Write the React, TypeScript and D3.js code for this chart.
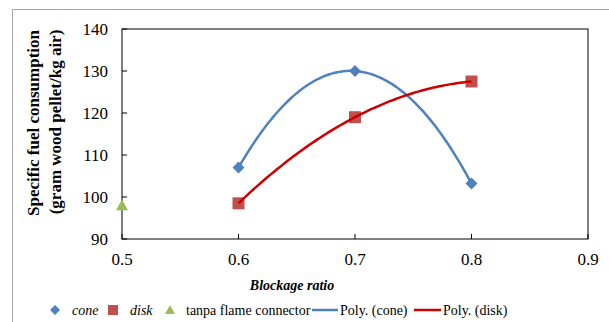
import * as React from 'react';
import * as d3 from 'd3';

const ratios = [0.6, 0.7, 0.8];
const coneValues = [107, 130, 103.2];
const diskValues = [98.5, 119, 127.5];
const tanpaRatio = [0.5];
const tanpaValues = [98];
const xTicks = [0.5, 0.6, 0.7, 0.8, 0.9];
const yTicks = [90, 100, 110, 120, 130, 140];

const width = 609;
const height = 322;
const left = 122;
const right = 588;
const top = 29;
const bottom = 239;

const font = '"Liberation Serif", "Times New Roman", serif';

// quadratic trendline through the three points (Lagrange form)
const poly = (xs: number[], ys: number[]) => (x: number) =>
  ys.reduce((s, yi, i) => {
    let t = yi;
    xs.forEach((xj, j) => {
      if (j !== i) t *= (x - xj) / (xs[i] - xj);
    });
    return s + t;
  }, 0);

const App: React.FC = () => {
  const x = d3.scaleLinear().domain([0.5, 0.9]).range([left, right]);
  const y = d3.scaleLinear().domain([90, 140]).range([bottom, top]);
  const line = d3.line<number[]>().x((d) => x(d[0])).y((d) => y(d[1]));

  const samples = d3.range(0.6, 0.8001, 0.0025);
  const coneFit = poly(ratios, coneValues);
  const diskFit = poly(ratios, diskValues);
  const conePath = line(samples.map((r) => [r, coneFit(r)])) || '';
  const diskPath = line(samples.map((r) => [r, diskFit(r)])) || '';

  const diamond = (cx: number, cy: number, r: number) =>
    `M${cx},${cy - r}L${cx + r},${cy}L${cx},${cy + r}L${cx - r},${cy}Z`;
  const triangle = (cx: number, cy: number, r: number) =>
    `M${cx},${cy - r}L${cx + r},${cy + r * 0.8}L${cx - r},${cy + r * 0.8}Z`;

  return (
    <svg width={width} height={height} style={{ position: 'absolute', left: 0, top: 0, fontFamily: font }}>
      <rect width={width} height={height} fill="white" />
      <path d={`M12.5,${height}V9.5H${width}`} fill="none" stroke="#a6a6a6" />

      {/* plot frame */}
      <rect x={left} y={top} width={right - left} height={bottom - top} fill="none" stroke="#000" strokeWidth={1} />
      {yTicks.map((t) => (
        <g key={t}>
          <line x1={left} x2={left + 5} y1={y(t)} y2={y(t)} stroke="#000" />
          <text x={left - 14} y={y(t)} dy="0.35em" textAnchor="end" fontSize={17}>
            {t}
          </text>
        </g>
      ))}
      {xTicks.map((t) => (
        <g key={t}>
          <line x1={x(t)} x2={x(t)} y1={bottom} y2={bottom - 5} stroke="#000" />
          <text x={x(t)} y={bottom + 26} textAnchor="middle" fontSize={17}>
            {d3.format('.1f')(t)}
          </text>
        </g>
      ))}

      {/* markers */}
      {ratios.map((r, i) => (
        <path key={'c' + i} d={diamond(x(r), y(coneValues[i]), 6)} fill="#4F81BD" />
      ))}
      {ratios.map((r, i) => (
        <rect key={'d' + i} x={x(r) - 6} y={y(diskValues[i]) - 6} width={12} height={12} fill="#C0504D" />
      ))}
      {tanpaRatio.map((r, i) => (
        <path key={'t' + i} d={triangle(x(r), y(tanpaValues[i]), 6)} fill="#9BBB59" />
      ))}

      {/* trendlines */}
      <path d={conePath} fill="none" stroke="#4F81BD" strokeWidth={2.5} />
      <path d={diskPath} fill="none" stroke="#CC0000" strokeWidth={2.5} />

      {/* axis titles */}
      <text x={292} y={290} textAnchor="middle" fontSize={14} fontWeight="bold" fontStyle="italic">
        Blockage ratio
      </text>
      <text transform="translate(39,123) rotate(-90)" textAnchor="middle" fontSize={17} fontWeight="bold">
        Specific fuel consumption
      </text>
      <text transform="translate(61,122) rotate(-90)" textAnchor="middle" fontSize={17} fontWeight="bold">
        (gram wood pellet/kg air)
      </text>

      {/* legend */}
      <g fontSize={14}>
        <path d={diamond(55, 310, 5)} fill="#4F81BD" />
        <text x={72} y={315} fontStyle="italic">cone</text>
        <rect x={108} y={305} width={10} height={10} fill="#C0504D" />
        <text x={130} y={315} fontStyle="italic">disk</text>
        <path d={triangle(170, 310, 5)} fill="#9BBB59" />
        <text x={186} y={315}>tanpa flame connector</text>
        <line x1={312} x2={338} y1={310} y2={310} stroke="#4F81BD" strokeWidth={2.5} />
        <text x={340} y={315}>Poly. (cone)</text>
        <line x1={414} x2={441} y1={310} y2={310} stroke="#CC0000" strokeWidth={2.5} />
        <text x={443} y={315}>Poly. (disk)</text>
      </g>
    </svg>
  );
};

export default App;
